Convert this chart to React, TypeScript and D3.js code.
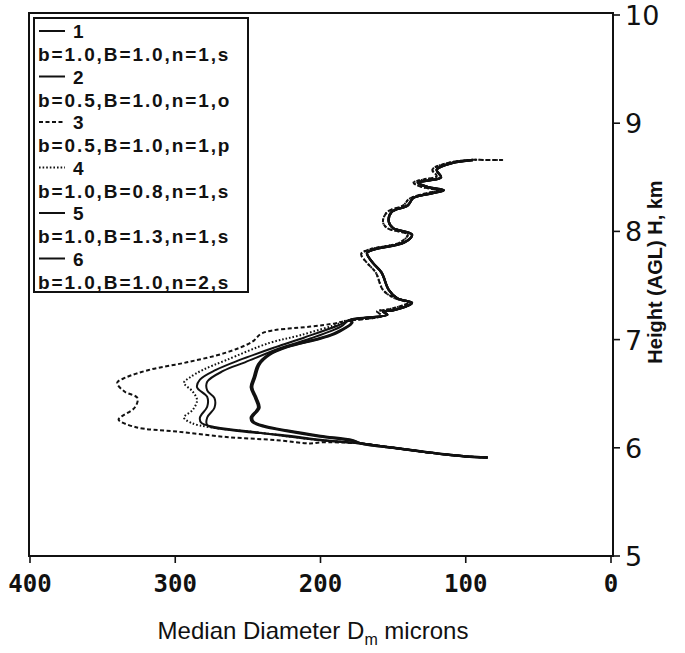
import * as d3 from 'd3';

// x = median diameter (microns, axis reversed), y = height AGL (km)
const diameterTicks = [400, 300, 200, 100, 0];
const heightTicks = [5, 6, 7, 8, 9, 10];

// shared bottom tail, bottom-up
const bottomTail: [number, number][] = [
  [85, 5.91], [100, 5.92], [115, 5.94], [133, 5.97], [150, 6.0], [172, 6.04],
];

// shared upper profile (bottom-up), solid curves
const upperA: [number, number][] = [
  [180, 7.18], [154, 7.23], [157, 7.26], [150, 7.27], [137, 7.34], [147, 7.38],
  [153, 7.46], [158, 7.62], [164, 7.71], [168, 7.8], [164, 7.83], [142, 7.9],
  [137, 7.97], [150, 8.03], [153, 8.09], [151, 8.18], [140, 8.24], [136, 8.31],
  [124, 8.35], [115, 8.38], [126, 8.41], [133, 8.45], [126, 8.47], [117, 8.5],
  [120, 8.57], [110, 8.63], [95, 8.66],
];

// upper profile for the broken curves (runs a bit further at the top)
const upperB: [number, number][] = [
  [184, 7.17], [158, 7.22], [161, 7.26], [153, 7.28], [140, 7.34], [150, 7.39],
  [157, 7.46], [162, 7.62], [168, 7.71], [172, 7.79], [167, 7.83], [145, 7.9],
  [140, 7.97], [154, 8.03], [157, 8.09], [154, 8.18], [143, 8.24], [139, 8.3],
  [128, 8.35], [119, 8.38], [130, 8.41], [136, 8.45], [129, 8.48], [120, 8.51],
  [123, 8.57], [113, 8.63], [97, 8.66], [85, 8.66], [74, 8.66],
];

const lower1: [number, number][] = [
  [197, 6.07], [228, 6.12], [260, 6.16], [278, 6.21], [278, 6.28], [273, 6.37],
  [273, 6.46], [278, 6.53], [278, 6.61], [267, 6.71], [252, 6.79], [228, 6.92],
  [207, 7.01], [186, 7.12],
];
const lower2: [number, number][] = [
  [200, 6.07], [242, 6.14], [272, 6.19], [282, 6.23], [283, 6.28], [278, 6.38],
  [278, 6.47], [285, 6.56], [283, 6.63], [272, 6.72], [256, 6.81], [231, 6.93],
  [211, 7.02], [188, 7.13],
];
const lower3: [number, number][] = [
  [200, 6.05], [207, 6.04], [230, 6.07], [265, 6.1], [299, 6.15], [327, 6.19],
  [339, 6.26], [337, 6.29], [328, 6.37], [326, 6.46], [335, 6.52], [340, 6.6],
  [334, 6.65], [318, 6.72], [292, 6.79], [265, 6.88], [247, 6.98], [240, 7.06],
  [207, 7.12], [190, 7.15],
];
const lower4: [number, number][] = [
  [200, 6.07], [242, 6.14], [276, 6.19], [289, 6.23], [294, 6.28], [288, 6.35],
  [285, 6.44], [288, 6.52], [294, 6.6], [290, 6.65], [281, 6.72], [265, 6.81],
  [235, 6.97], [214, 7.04], [187, 7.15],
];
const lower5: [number, number][] = [
  [178, 6.07], [200, 6.11], [223, 6.16], [238, 6.2], [246, 6.24], [247, 6.28],
  [242, 6.37], [244, 6.46], [247, 6.56], [245, 6.65], [242, 6.77], [235, 6.86],
  [223, 6.93], [200, 7.01], [189, 7.06], [178, 7.16],
];
const lower6: [number, number][] = [
  [178, 6.065], [200.5, 6.105], [223.5, 6.155], [239, 6.195], [247, 6.24], [248, 6.28],
  [243, 6.37], [245, 6.46], [248, 6.56], [246, 6.65], [243, 6.77], [236, 6.86],
  [224, 6.93], [201, 7.01], [189.5, 7.065], [178.5, 7.16],
];

const seriesNames = ['1', '2', '3', '4', '5', '6'];
const seriesLabels = [
  'b=1.0,B=1.0,n=1,s',
  'b=0.5,B=1.0,n=1,o',
  'b=0.5,B=1.0,n=1,p',
  'b=1.0,B=0.8,n=1,s',
  'b=1.0,B=1.3,n=1,s',
  'b=1.0,B=1.0,n=2,s',
];
const seriesData = [
  [...bottomTail, ...lower1, ...upperA],
  [...bottomTail, ...lower2, ...upperA],
  [...bottomTail, ...lower3, ...upperB],
  [...bottomTail, ...lower4, ...upperB],
  [...bottomTail, ...lower5, ...upperA],
  [...bottomTail, ...lower6, ...upperA],
];
const seriesDash = ['', '', '4 2.5', '1.6 2', '', ''];
const seriesWidth = [2, 2, 2, 2, 2.4, 2.4];

const W = 685;
const H = 653;
const plot = { left: 29, right: 613, top: 13, bottom: 556 };

export default function App() {
  const x = d3.scaleLinear().domain([400, 0]).range([plot.left + 1, plot.right - 2]);
  const y = d3.scaleLinear().domain([5, 10]).range([plot.bottom, plot.top + 2]);
  const line = d3
    .line<[number, number]>()
    .x(d => x(d[0]))
    .y(d => y(d[1]))
    .curve(d3.curveCatmullRom.alpha(0.5));

  const legX = 34;
  const legTop = 18;
  const rowH = 45.5;

  return (
    <svg width={W} height={H} style={{ display: 'block', position: 'absolute', left: 0, top: 0, background: '#fff' }}>
      <rect x={0} y={0} width={W} height={H} fill="#fff" />
      {/* frame */}
      <rect
        x={plot.left}
        y={plot.top}
        width={plot.right - plot.left}
        height={plot.bottom - plot.top}
        fill="none"
        stroke="#111"
        strokeWidth={2}
      />

      {/* bottom ticks */}
      {diameterTicks.map(t => (
        <g key={t}>
          <line x1={x(t)} x2={x(t)} y1={plot.bottom} y2={plot.bottom + 7} stroke="#111" strokeWidth={1.6} />
          <text
            x={x(t)}
            y={plot.bottom + 36}
            textAnchor="middle"
            fontFamily="'DejaVu Sans Mono', monospace"
            fontWeight="bold"
            fontSize={24}
            fill="#111"
          >
            {t}
          </text>
        </g>
      ))}

      {/* right ticks */}
      {heightTicks.map(t => (
        <g key={t}>
          <line x1={plot.right} x2={plot.right + 7} y1={y(t)} y2={y(t)} stroke="#111" strokeWidth={1.6} />
          <text
            x={plot.right + 12}
            y={y(t) + 10}
            fontFamily="'DejaVu Sans', sans-serif"
            fontSize={27}
            fill="#111"
          >
            {t}
          </text>
        </g>
      ))}

      <text
        transform={`translate(662,${272}) rotate(-90)`}
        textAnchor="middle"
        fontFamily="'Liberation Sans', Arial, sans-serif"
        fontWeight="bold"
        fontSize={20}
        fill="#111"
      >
        Height (AGL) H, km
      </text>

      <text
        x={313}
        y={639}
        textAnchor="middle"
        fontFamily="'Liberation Sans Narrow', 'Liberation Sans', Arial, sans-serif"
        fontSize={24}
        fill="#111"
      >
        Median Diameter{'  '}D<tspan fontSize={16} dy={6}>m</tspan>
        <tspan dy={-6}> microns</tspan>
      </text>

      {/* curves */}
      <g fill="none" stroke="#111" strokeLinejoin="round">
        {seriesData.map((d, i) => (
          <path
            key={i}
            d={line(d) ?? ''}
            strokeWidth={seriesWidth[i]}
            strokeDasharray={seriesDash[i] || undefined}
          />
        ))}
      </g>

      {/* legend */}
      <rect x={legX} y={legTop} width={214} height={274} fill="#fff" stroke="#111" strokeWidth={2} />
      {seriesNames.map((n, i) => {
        const ly = legTop + 13 + i * rowH;
        return (
          <g key={n} fontFamily="'Liberation Sans', Arial, sans-serif" fontWeight="bold" fill="#111">
            <line
              x1={legX + 5}
              x2={legX + 31}
              y1={ly}
              y2={ly}
              stroke="#111"
              strokeWidth={2}
              strokeDasharray={seriesDash[i] || undefined}
            />
            <text x={legX + 39} y={ly + 7} fontSize={19}>
              {n}
            </text>
            <text x={legX + 4} y={ly + 30} fontSize={19} letterSpacing={1.9}>
              {seriesLabels[i]}
            </text>
          </g>
        );
      })}
    </svg>
  );
}
